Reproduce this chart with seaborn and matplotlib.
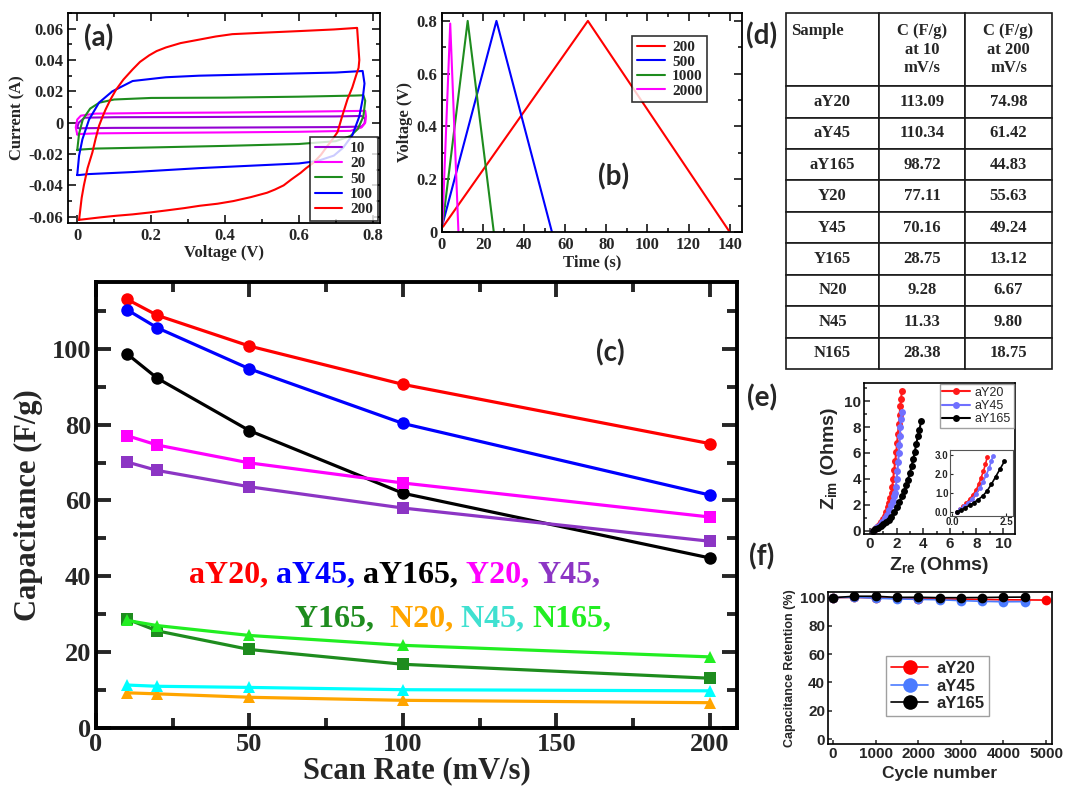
import numpy as np
import pandas as pd
import matplotlib
matplotlib.use("Agg")
import matplotlib.pyplot as plt
import seaborn as sns
from matplotlib.ticker import MultipleLocator, FuncFormatter

# ---- (a) cyclic voltammetry, scan rates in mV/s
cv_rates = ["10", "20", "50", "100", "200"]
cv_colors = ["#9400d3", "#ff00ff", "#1e8c1e", "#0000ff", "#ff0000"]
cv_v10 = [0.0, 0.004, 0.02, 0.1, 0.3, 0.5, 0.7, 0.77, 0.78, 0.778, 0.77, 0.7, 0.5, 0.3, 0.1, 0.02, 0.004, 0.0]
cv_i10 = [-0.003, 0.0, 0.0032, 0.0035, 0.0036, 0.0038, 0.004, 0.0043, 0.0025, -0.0005, -0.0025, -0.0028, -0.003, -0.0032, -0.0033, -0.0035, -0.0036, -0.003]
cv_v20 = [0.0, -0.004, 0.0, 0.01, 0.05, 0.2, 0.4, 0.6, 0.76, 0.78, 0.782, 0.78, 0.77, 0.74, 0.6, 0.4, 0.2, 0.05, 0.01, 0.0]
cv_i20 = [-0.0075, -0.003, 0.002, 0.0045, 0.0058, 0.0062, 0.0065, 0.007, 0.0075, 0.0076, 0.004, 0.0, -0.003, -0.0052, -0.0058, -0.0062, -0.0065, -0.0068, -0.0072, -0.0075]
cv_v50 = [0.0, 0.005, 0.015, 0.035, 0.06, 0.1, 0.2, 0.4, 0.6, 0.75, 0.775, 0.78, 0.775, 0.76, 0.74, 0.7, 0.6, 0.4, 0.2, 0.05, 0.005, 0.0]
cv_i50 = [-0.0175, -0.007, 0.002, 0.009, 0.0128, 0.0148, 0.0158, 0.016, 0.0166, 0.0173, 0.0175, 0.014, 0.004, -0.004, -0.0085, -0.0118, -0.0136, -0.0148, -0.0158, -0.0165, -0.0172, -0.0175]
cv_v100 = [0.0, 0.005, 0.014, 0.032, 0.059, 0.095, 0.15, 0.24, 0.33, 0.51, 0.7, 0.773, 0.778, 0.773, 0.764, 0.745, 0.72, 0.695, 0.65, 0.6, 0.51, 0.33, 0.15, 0.03, 0.005, 0.0]
cv_i100 = [-0.0334, -0.021, -0.0106, 0.002, 0.0128, 0.020, 0.0266, 0.029, 0.030, 0.031, 0.032, 0.033, 0.025, 0.015, 0.004, -0.008, -0.016, -0.021, -0.0245, -0.026, -0.027, -0.029, -0.0315, -0.0328, -0.0334, -0.0334]
cv_v200 = [0.005, 0.008, 0.012, 0.018, 0.028, 0.041, 0.05, 0.059, 0.068, 0.077, 0.09, 0.105, 0.125, 0.15, 0.17, 0.195, 0.215, 0.24, 0.28, 0.33, 0.375, 0.42, 0.51, 0.605, 0.695, 0.758,
           0.764, 0.762, 0.755, 0.745, 0.732, 0.718, 0.705, 0.69, 0.677, 0.66, 0.64, 0.62, 0.605, 0.58, 0.559, 0.535, 0.514, 0.47, 0.423, 0.38, 0.332, 0.29, 0.241, 0.2, 0.15, 0.1, 0.059, 0.005]
cv_i200 = [-0.062, -0.056, -0.048, -0.040, -0.029, -0.019, -0.010, -0.002, 0.0035, 0.0085, 0.0148, 0.021, 0.0275, 0.034, 0.0388, 0.043, 0.0457, 0.048, 0.0508, 0.053, 0.055, 0.0565, 0.0575, 0.0585, 0.0595, 0.0605,
           0.040, 0.035, 0.030, 0.0225, 0.015, 0.0045, -0.006, -0.011, -0.015, -0.0205, -0.0255, -0.029, -0.032, -0.0362, -0.040, -0.0427, -0.0447, -0.0475, -0.050, -0.0517, -0.053, -0.0545, -0.056, -0.0572, -0.0585, -0.0595, -0.0605, -0.062]

# ---- (b) charge / discharge
gcd_labels = ["200", "500", "1000", "2000"]
gcd_colors = ["#ff0000", "#0000ff", "#1e8c1e", "#ff00ff"]
gcd_t200 = [0.5, 71.0, 140.0]
gcd_u200 = [0.02, 0.80, 0.0]
gcd_t500 = [0.3, 26.5, 53.5]
gcd_u500 = [0.03, 0.80, 0.0]
gcd_t1000 = [0.3, 12.5, 25.2]
gcd_u1000 = [0.03, 0.80, 0.0]
gcd_t2000 = [0.2, 4.0, 8.0]
gcd_u2000 = [0.03, 0.79, 0.0]

# ---- (c) capacitance vs scan rate
scan_rate = [10, 20, 50, 100, 200]
samples = ["aY20", "aY45", "aY165", "Y20", "Y45", "Y165", "N20", "N45", "N165"]
cap_aY20 = [113.09, 108.8, 100.7, 90.6, 74.98]
cap_aY45 = [110.34, 105.5, 94.7, 80.3, 61.42]
cap_aY165 = [98.72, 92.2, 78.4, 61.9, 44.83]
cap_Y20 = [77.11, 74.6, 69.9, 64.6, 55.63]
cap_Y45 = [70.16, 67.9, 63.6, 58.0, 49.24]
cap_Y165 = [28.75, 25.6, 20.7, 16.8, 13.12]
cap_N20 = [9.28, 9.0, 8.1, 7.3, 6.67]
cap_N45 = [11.33, 11.0, 10.7, 10.1, 9.80]
cap_N165 = [28.38, 27.0, 24.4, 21.8, 18.75]
line_colors = ["#ff0000", "#0000ff", "#000000", "#ff00ff", "#8c35c4", "#1e8c1e", "#ffa500", "#00ffff", "#22ee22"]
text_colors = ["#ff0000", "#0000ff", "#000000", "#ff00ff", "#8c35c4", "#1e8c1e", "#ffa500", "#40e0d0", "#22ee22"]
line_markers = ["o", "o", "o", "s", "s", "s", "^", "^", "^"]

# ---- (d) table
tab_c10 = ["113.09", "110.34", "98.72", "77.11", "70.16", "28.75", "9.28", "11.33", "28.38"]
tab_c200 = ["74.98", "61.42", "44.83", "55.63", "49.24", "13.12", "6.67", "9.80", "18.75"]

# ---- (e) Nyquist
eis_names = ["aY20", "aY45", "aY165"]
eis_colors = ["#ff1a1a", "#7070ff", "#000000"]
zre_aY20 = [0.2, 0.35, 0.5, 0.65, 0.8, 0.95, 1.1, 1.22, 1.33, 1.44, 1.53, 1.62, 1.68, 1.74, 1.82, 1.9, 1.98, 2.04, 2.1, 2.16, 2.22, 2.28, 2.34, 2.4]
zim_aY20 = [0.0, 0.15, 0.3, 0.48, 0.68, 0.9, 1.15, 1.45, 1.8, 2.15, 2.5, 2.9, 3.4, 4.0, 4.7, 5.4, 6.1, 6.8, 7.5, 8.2, 8.9, 9.6, 10.2, 10.8]
zre_aY45 = [0.2, 0.38, 0.56, 0.74, 0.92, 1.1, 1.27, 1.43, 1.57, 1.7, 1.8, 1.88, 1.95, 2.0, 2.06, 2.12, 2.17, 2.21, 2.25, 2.28, 2.32, 2.38]
zim_aY45 = [0.0, 0.14, 0.3, 0.48, 0.7, 0.95, 1.25, 1.6, 1.95, 2.3, 2.65, 2.95, 3.4, 4.0, 4.6, 5.3, 6.0, 6.6, 7.3, 8.0, 8.6, 9.2]
zre_aY165 = [0.2, 0.4, 0.6, 0.8, 1.0, 1.2, 1.4, 1.6, 1.8, 2.0, 2.2, 2.4, 2.58, 2.72, 2.85, 3.0, 3.13, 3.25, 3.37, 3.48, 3.6, 3.72, 3.85]
zim_aY165 = [0.0, 0.1, 0.22, 0.36, 0.5, 0.66, 0.84, 1.1, 1.45, 1.85, 2.25, 2.65, 3.1, 3.5, 3.95, 4.45, 5.0, 5.55, 6.1, 6.7, 7.3, 7.8, 8.5]

# ---- (f) cycling
cyc_aY20 = [0, 500, 1000, 1500, 2000, 2500, 3000, 3500, 4000, 4500, 5000]
ret_aY20 = [100.0, 100.2, 99.8, 99.5, 99.3, 99.1, 98.9, 98.7, 98.5, 98.4, 98.3]
cyc_aY45 = [0, 500, 1000, 1500, 2000, 2500, 3000, 3500, 4000, 4500]
ret_aY45 = [100.0, 100.3, 99.6, 99.1, 98.8, 98.5, 97.9, 97.4, 97.1, 97.2]
cyc_aY165 = [0, 500, 1000, 1500, 2000, 2500, 3000, 3500, 4000, 4500]
ret_aY165 = [100.0, 101.0, 101.0, 100.2, 100.3, 100.0, 100.0, 100.1, 100.3, 100.4]
ret_colors = ["#ff0000", "#4b7bff", "#000000"]

sns.set_theme(style="ticks")
plt.rcParams["font.family"] = ["Liberation Serif", "DejaVu Serif"]
plt.rcParams["font.weight"] = "bold"
plt.rcParams["axes.labelweight"] = "bold"
plt.rcParams["axes.unicode_minus"] = False
plt.rcParams["mathtext.fontset"] = "custom"
plt.rcParams["mathtext.rm"] = "Liberation Sans:bold"
plt.rcParams["mathtext.bf"] = "Liberation Sans:bold"

W, H = 1067, 790
fig = plt.figure(figsize=(W / 100, H / 100), dpi=100)
fig.patch.set_facecolor("white")


def rect(l, t, r, b):
    return [l / W, 1 - b / H, (r - l) / W, (b - t) / H]


def grace(ax, size, lw=1.3, major=6, minor=3):
    ax.tick_params(which="both", direction="in", top=True, right=True, width=lw, labelsize=size)
    ax.tick_params(which="major", length=major)
    ax.tick_params(which="minor", length=minor)
    for s in ax.spines.values():
        s.set_linewidth(lw)
        s.set_color("black")
    ax.xaxis.set_major_formatter(FuncFormatter(lambda v, p: "%g" % round(v, 6)))
    ax.yaxis.set_major_formatter(FuncFormatter(lambda v, p: "%g" % round(v, 6)))
    for t in ax.get_xticklabels() + ax.get_yticklabels():
        t.set_fontweight("bold")


label_font = dict(family=["Lato", "DejaVu Sans"], weight="bold", fontsize=20)

# (a)
axa = fig.add_axes(rect(68, 13, 380, 223))
cv_v = [cv_v10, cv_v20, cv_v50, cv_v100, cv_v200]
cv_i = [cv_i10, cv_i20, cv_i50, cv_i100, cv_i200]
for lab, col, v, i in zip(cv_rates, cv_colors, cv_v, cv_i):
    sns.lineplot(x=v, y=i, sort=False, estimator=None, color=col, lw=1.5, label=lab, ax=axa)
axa.set_xlim(-0.025, 0.82)
axa.set_ylim(-0.064, 0.07)
axa.xaxis.set_major_locator(MultipleLocator(0.2))
axa.xaxis.set_minor_locator(MultipleLocator(0.1))
axa.yaxis.set_major_locator(MultipleLocator(0.02))
axa.yaxis.set_minor_locator(MultipleLocator(0.01))
grace(axa, 12)
axa.set_xlabel("Voltage (V)", fontsize=12, labelpad=1)
axa.set_ylabel("Current (A)", fontsize=12, labelpad=2)
leg = axa.legend(loc="lower right", fontsize=11, frameon=True, fancybox=False, borderaxespad=0.15,
                 handlelength=1.8, labelspacing=0.1, borderpad=0.3, handletextpad=0.5)
leg.get_frame().set_edgecolor("black")
leg.get_frame().set_linewidth(1.2)
axa.text(0.05, 0.88, "(a)", transform=axa.transAxes, va="center", **label_font)

# (b)
axb = fig.add_axes(rect(442, 13, 742, 232))
gcd_t = [gcd_t200, gcd_t500, gcd_t1000, gcd_t2000]
gcd_u = [gcd_u200, gcd_u500, gcd_u1000, gcd_u2000]
for lab, col, t, u in zip(gcd_labels, gcd_colors, gcd_t, gcd_u):
    sns.lineplot(x=t, y=u, sort=False, estimator=None, color=col, lw=1.5, label=lab, ax=axb)
axb.set_xlim(0, 146)
axb.set_ylim(0, 0.83)
axb.xaxis.set_major_locator(MultipleLocator(20))
axb.xaxis.set_minor_locator(MultipleLocator(10))
axb.yaxis.set_major_locator(MultipleLocator(0.2))
axb.yaxis.set_minor_locator(MultipleLocator(0.1))
grace(axb, 12)
axb.set_xlabel("Time (s)", fontsize=12, labelpad=1)
axb.set_ylabel("Voltage (V)", fontsize=12, labelpad=2)
leg = axb.legend(loc="upper right", bbox_to_anchor=(0.91, 0.93), fontsize=11, frameon=True, fancybox=False,
                 handlelength=1.8, labelspacing=0.05, borderpad=0.3, handletextpad=0.5)
leg.get_frame().set_edgecolor("black")
leg.get_frame().set_linewidth(1.2)
axb.text(0.52, 0.25, "(b)", transform=axb.transAxes, va="center", ha="left", **label_font)

# (c)
axc = fig.add_axes(rect(96, 282, 737, 728))
caps = [cap_aY20, cap_aY45, cap_aY165, cap_Y20, cap_Y45, cap_Y165, cap_N20, cap_N45, cap_N165]
df_c = pd.DataFrame({
    "rate": np.tile(scan_rate, len(samples)),
    "cap": np.concatenate(caps),
    "sample": np.repeat(samples, len(scan_rate)),
})
sns.lineplot(data=df_c, x="rate", y="cap", hue="sample", style="sample",
             palette=dict(zip(samples, line_colors)), markers=dict(zip(samples, line_markers)),
             dashes=False, markersize=9, markeredgewidth=0, linewidth=2.3, legend=False, ax=axc)
axc.set_xlim(0, 208.8)
axc.set_ylim(0, 117.6)
axc.xaxis.set_major_locator(MultipleLocator(50))
axc.xaxis.set_minor_locator(MultipleLocator(25))
axc.yaxis.set_major_locator(MultipleLocator(20))
axc.yaxis.set_minor_locator(MultipleLocator(10))
grace(axc, 19, lw=2.8, major=11, minor=7)
axc.set_xlabel("Scan Rate (mV/s)", fontsize=22, labelpad=0)
axc.set_ylabel("Capacitance (F/g)", fontsize=22, labelpad=6)
axc.text(0.78, 0.84, "(c)", transform=axc.transAxes, va="center", **label_font)

rows = [(samples[:5], text_colors[:5], 0.145, 0.31), (samples[5:], text_colors[5:], 0.31, 0.213)]
for names, cols, x0, y0 in rows:
    prev = None
    for k, (nm, col) in enumerate(zip(names, cols)):
        s = nm + ","
        if k < len(names) - 1:
            s += "  " if nm == "Y165" else " "
        if prev is None:
            prev = axc.text(x0, y0, s, transform=axc.transAxes, color=col, fontsize=23,
                            fontweight="bold", va="bottom", ha="left")
        else:
            prev = axc.annotate(s, xy=(1, 0), xycoords=prev, color=col, fontsize=23,
                                fontweight="bold", va="bottom", ha="left")

# (d) table
axd = fig.add_axes(rect(786, 13, 1052, 369))
axd.axis("off")
cell_text = [[s, a, b] for s, a, b in zip(samples, tab_c10, tab_c200)]
header = ["Sample\n \n ", "C (F/g)\nat 10\nmV/s", "C (F/g)\nat 200\nmV/s"]
tbl = axd.table(cellText=cell_text, colLabels=header, colWidths=[93, 86, 87],
                cellLoc="center", bbox=[0, 0, 1, 1])
tbl.auto_set_font_size(False)
tbl.set_fontsize(12)
for (r, c), cell in tbl.get_celld().items():
    cell.set_height(73 if r == 0 else 31.4)
    cell.set_linewidth(1.2)
    cell.get_text().set_fontweight("bold")
tbl[0, 0]._loc = "left"
tbl[0, 0].PAD = 0.05
tbl[0, 0].get_text().set_ha("left")
fig.text(762 / W, 1 - 36 / H, "(d)", ha="center", va="center", **label_font)

# (e) Nyquist
sans = ["Liberation Sans", "DejaVu Sans"]
axe = fig.add_axes(rect(864, 383, 1015, 534))
zre = [zre_aY20, zre_aY45, zre_aY165]
zim = [zim_aY20, zim_aY45, zim_aY165]
for nm, col, x, y in zip(eis_names, eis_colors, zre, zim):
    sns.lineplot(x=x, y=y, sort=False, estimator=None, color=col, marker="o", markersize=5,
                 markeredgewidth=0, lw=1.5, label=nm, ax=axe)
axe.set_xlim(-0.45, 10.9)
axe.set_ylim(-0.25, 11.4)
axe.xaxis.set_major_locator(MultipleLocator(2))
axe.xaxis.set_minor_locator(MultipleLocator(1))
axe.yaxis.set_major_locator(MultipleLocator(2))
axe.yaxis.set_minor_locator(MultipleLocator(1))
axe.tick_params(which="both", direction="in", width=1.1, labelsize=11, pad=2)
axe.tick_params(which="major", length=4)
axe.tick_params(which="minor", length=2)
for t in axe.get_xticklabels() + axe.get_yticklabels():
    t.set_family(sans)
    t.set_fontweight("bold")
for s in axe.spines.values():
    s.set_linewidth(1.2)
    s.set_color("black")
axe.set_xlabel(r"Z$_{\mathbf{re}}$ (Ohms)", fontsize=14, family=sans, labelpad=3)
axe.set_ylabel(r"Z$_{\mathbf{im}}$ (Ohms)", fontsize=14, family=sans, labelpad=3)
leg = axe.legend(loc="upper right", prop=dict(family=sans, size=9, weight="normal"), frameon=True,
                 fancybox=False, borderaxespad=0.1, handlelength=2.2, labelspacing=0.1, borderpad=0.2,
                 handletextpad=0.4)
leg.get_frame().set_edgecolor("#888888")
fig.text(762 / W, 1 - 398 / H, "(e)", ha="center", va="center", **label_font)

axi = fig.add_axes(rect(950, 450, 1013, 516))
for col, x, y in zip(eis_colors, zre, zim):
    keep = [k for k in range(len(y)) if y[k] <= 3.0]
    sns.lineplot(x=[x[k] for k in keep], y=[y[k] for k in keep], sort=False, estimator=None,
                 color=col, marker="o", markersize=3.5, markeredgewidth=0, lw=1.2, ax=axi)
axi.set_xlim(-0.1, 2.8)
axi.set_ylim(-0.2, 3.25)
axi.set_xticks([0.0, 2.5])
axi.set_yticks([0.0, 1.0, 2.0, 3.0])
axi.xaxis.set_major_formatter(FuncFormatter(lambda v, p: "%.1f" % v))
axi.yaxis.set_major_formatter(FuncFormatter(lambda v, p: "%.1f" % v))
axi.tick_params(direction="in", width=0.8, length=2, labelsize=7, pad=1)
for t in axi.get_xticklabels() + axi.get_yticklabels():
    t.set_family(sans)
    t.set_fontweight("bold")
for s in axi.spines.values():
    s.set_linewidth(0.8)
    s.set_color("#555555")

# (f) retention
axf = fig.add_axes(rect(828, 592, 1052, 744))
cyc = [cyc_aY20, cyc_aY45, cyc_aY165]
ret = [ret_aY20, ret_aY45, ret_aY165]
for nm, col, x, y in zip(eis_names, ret_colors, cyc, ret):
    sns.lineplot(x=x, y=y, sort=False, estimator=None, color=col, marker="o", markersize=7,
                 markeredgewidth=0, lw=1.2, label=nm, ax=axf)
axf.set_xlim(-120, 5140)
axf.set_ylim(-3.5, 104)
axf.xaxis.set_major_locator(MultipleLocator(1000))
axf.yaxis.set_major_locator(MultipleLocator(20))
axf.tick_params(which="both", direction="in", width=1.1, length=3, labelsize=11, pad=2)
for t in axf.get_xticklabels() + axf.get_yticklabels():
    t.set_family(sans)
    t.set_fontweight("bold")
for s in axf.spines.values():
    s.set_linewidth(1.2)
    s.set_color("black")
axf.set_xlabel("Cycle number", fontsize=12.5, family=sans, labelpad=4)
axf.set_ylabel("Capacitance Retention (%)", fontsize=9, family=sans, labelpad=3)
leg = axf.legend(loc="center", bbox_to_anchor=(0.49, 0.38), prop=dict(family=sans, size=12, weight="bold"),
                 frameon=True, fancybox=False, markerscale=1.5, handlelength=2.2, labelspacing=0.15,
                 borderpad=0.3, handletextpad=0.5)
leg.get_frame().set_edgecolor("#888888")
fig.text(762 / W, 1 - 557 / H, "(f)", ha="center", va="center", **label_font)

fig.savefig("out.png", dpi=100)
